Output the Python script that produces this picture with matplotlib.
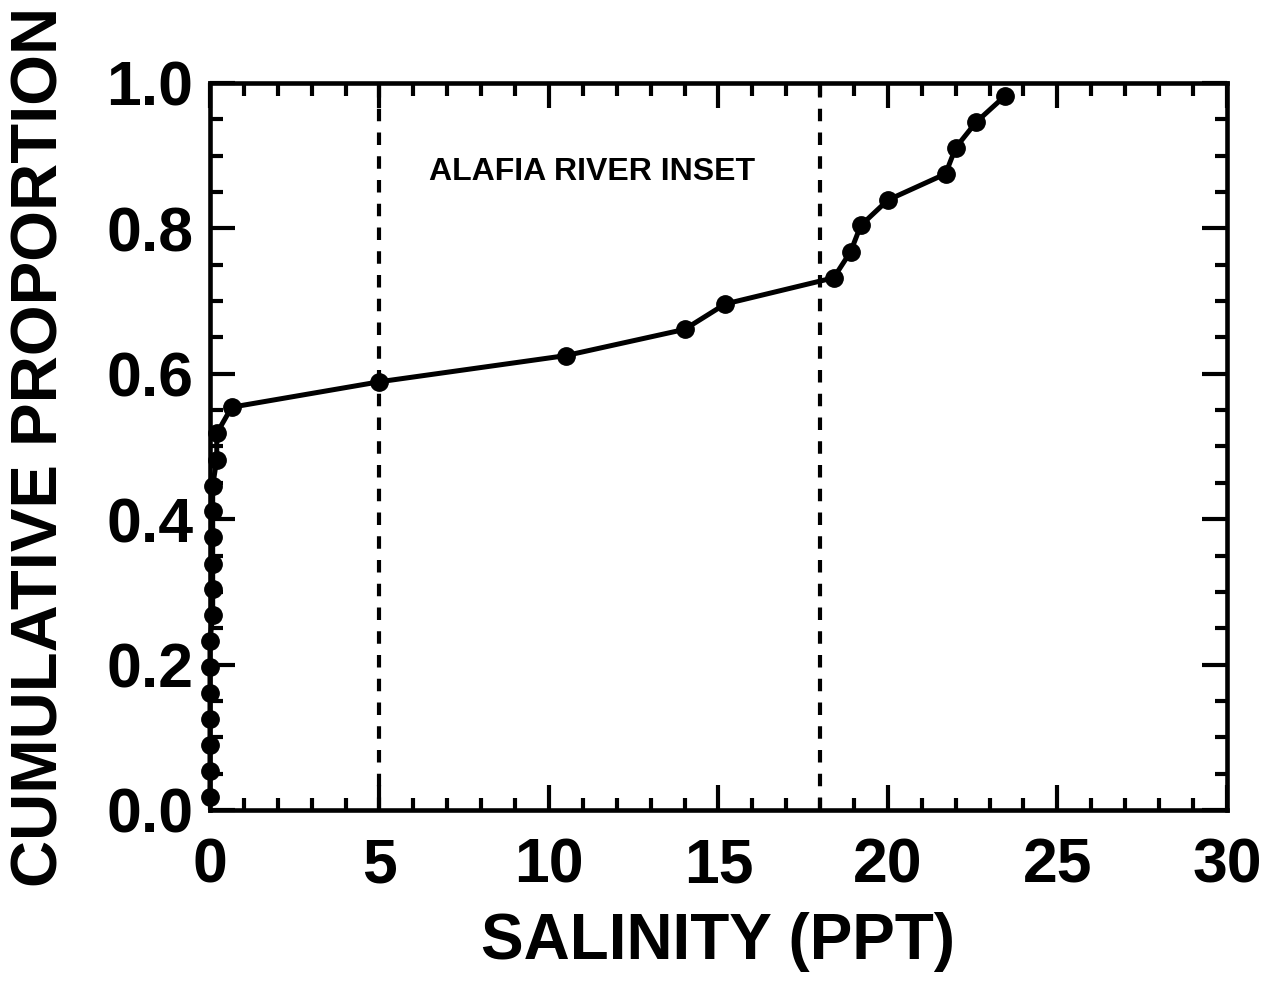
import matplotlib
matplotlib.use("Agg")
import matplotlib.pyplot as plt
from matplotlib.ticker import MultipleLocator

plt.rcParams["font.family"] = ["Liberation Sans", "DejaVu Sans"]
plt.rcParams["font.weight"] = "bold"

# salinity (ppt), sorted
salinity = [0.0, 0.0, 0.0, 0.0, 0.0, 0.0, 0.0,
            0.08, 0.08, 0.08, 0.08, 0.08, 0.08,
            0.2, 0.2, 0.64,
            5.0, 10.5, 14.0, 15.2, 18.4, 18.9, 19.2, 20.0,
            21.7, 22.0, 22.6, 23.45]
cum_prop = [0.018, 0.054, 0.089, 0.125, 0.161, 0.196, 0.232, 0.268,
            0.304, 0.339, 0.375, 0.411, 0.446, 0.482, 0.518, 0.554,
            0.589, 0.625, 0.661, 0.696, 0.732, 0.768, 0.804, 0.839,
            0.875, 0.911, 0.946, 0.982]
cutoffs = [5, 18]

fig = plt.figure(figsize=(12.78, 9.82), dpi=100)
ax = fig.add_axes([0.1643, 0.1752, 0.7957, 0.7403])

for c in cutoffs:
    ax.plot([c, c], [0, 1], color="black", lw=3, dashes=(3, 2.7))

ax.plot(salinity, cum_prop, color="black", lw=3.6, marker="o", markersize=12.5,
        clip_on=False, zorder=3)

ax.text(11.28, 0.878, "ALAFIA RIVER INSET", fontsize=23, fontweight="bold",
        ha="center", va="center")

ax.set_xlim(0, 30)
ax.set_ylim(0, 1)
ax.xaxis.set_major_locator(MultipleLocator(5))
ax.xaxis.set_minor_locator(MultipleLocator(1))
ax.yaxis.set_major_locator(MultipleLocator(0.2))
ax.yaxis.set_minor_locator(MultipleLocator(0.05))
ax.set_yticklabels([f"{v:.1f}" for v in ax.get_yticks()])

ax.tick_params(which="both", direction="in", top=True, right=True, width=3)
ax.tick_params(which="major", length=18, labelsize=45)
ax.tick_params(axis="x", which="major", pad=19)
ax.tick_params(axis="y", which="major", pad=12)
ax.tick_params(which="minor", length=9)
for s in ax.spines.values():
    s.set_linewidth(3.3)

ax.set_xlabel("SALINITY (PPT)", fontsize=46, fontweight="bold", labelpad=12)
ax.set_ylabel("CUMULATIVE PROPORTION", fontsize=47, fontweight="bold", labelpad=26)

fig.savefig("out.png", dpi=100)
